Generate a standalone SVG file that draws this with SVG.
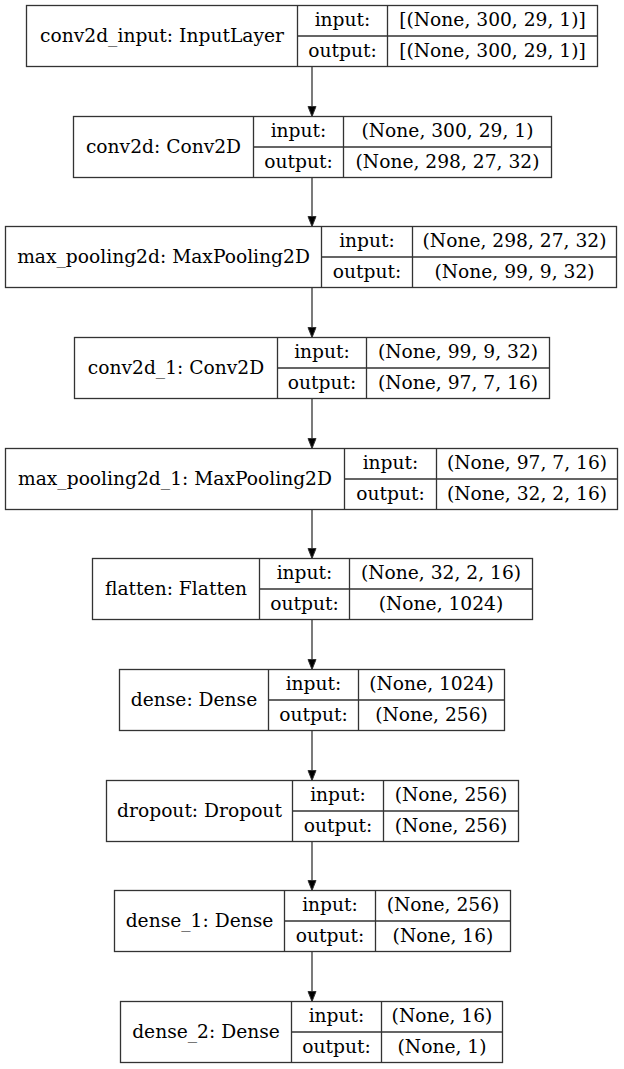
<svg xmlns="http://www.w3.org/2000/svg" width="624" height="1069" viewBox="0 0 624 1069">
<style>
.b{fill:#fff;stroke:#333;stroke-width:1.3}
.l{stroke:#333;stroke-width:1.3;fill:none}
text{font-family:"DejaVu Serif",serif;font-size:18.67px;fill:#000;text-anchor:middle}
.e{stroke:#333;stroke-width:1.3;fill:none;marker-end:url(#ah)}
</style>
<defs>
<marker id="ah" markerUnits="userSpaceOnUse" markerWidth="12" markerHeight="10" refX="10.5" refY="4.5" orient="auto">
<path d="M0.5,0.5 L10.5,4.5 L0.5,8.5 z" fill="#000" stroke="#333" stroke-width="1"/>
</marker>
</defs>
<rect width="624" height="1069" fill="#fff"/>
<g id="connectors">
<line class="e" x1="312" y1="66.5" x2="312" y2="116.5"/>
<line class="e" x1="312" y1="177.5" x2="312" y2="226.5"/>
<line class="e" x1="312" y1="287.5" x2="312" y2="337.5"/>
<line class="e" x1="312" y1="398.5" x2="312" y2="448.5"/>
<line class="e" x1="312" y1="509.5" x2="312" y2="558.5"/>
<line class="e" x1="312" y1="619.5" x2="312" y2="669.5"/>
<line class="e" x1="312" y1="730.5" x2="312" y2="780.5"/>
<line class="e" x1="312" y1="841.5" x2="312" y2="890.5"/>
<line class="e" x1="312" y1="951.5" x2="312" y2="1001.5"/>
</g>
<g id="conv2d_input">
<rect class="b" x="26.5" y="5.5" width="571" height="61"/>
<path class="l" d="M297.5,5.5V66.5M387.5,5.5V66.5M297.5,36H597.5"/>
<text x="162" y="41.5">conv2d_input: InputLayer</text>
<text x="342.5" y="26.25">input:</text>
<text x="342.5" y="56.75">output:</text>
<text x="492.5" y="26.25">[(None, 300, 29, 1)]</text>
<text x="492.5" y="56.75">[(None, 300, 29, 1)]</text>
</g>
<g id="conv2d">
<rect class="b" x="73.5" y="116.5" width="478" height="61"/>
<path class="l" d="M253.5,116.5V177.5M343.5,116.5V177.5M253.5,147H551.5"/>
<text x="163.5" y="152.5">conv2d: Conv2D</text>
<text x="298.5" y="137.25">input:</text>
<text x="298.5" y="167.75">output:</text>
<text x="447.5" y="137.25">(None, 300, 29, 1)</text>
<text x="447.5" y="167.75">(None, 298, 27, 32)</text>
</g>
<g id="max_pooling2d">
<rect class="b" x="5.5" y="226.5" width="611" height="61"/>
<path class="l" d="M321.5,226.5V287.5M412.5,226.5V287.5M321.5,257H616.5"/>
<text x="163.5" y="262.5">max_pooling2d: MaxPooling2D</text>
<text x="367" y="247.25">input:</text>
<text x="367" y="277.75">output:</text>
<text x="514.5" y="247.25">(None, 298, 27, 32)</text>
<text x="514.5" y="277.75">(None, 99, 9, 32)</text>
</g>
<g id="conv2d_1">
<rect class="b" x="74.5" y="337.5" width="475" height="61"/>
<path class="l" d="M277.5,337.5V398.5M366.5,337.5V398.5M277.5,368H549.5"/>
<text x="176" y="373.5">conv2d_1: Conv2D</text>
<text x="322" y="358.25">input:</text>
<text x="322" y="388.75">output:</text>
<text x="458" y="358.25">(None, 99, 9, 32)</text>
<text x="458" y="388.75">(None, 97, 7, 16)</text>
</g>
<g id="max_pooling2d_1">
<rect class="b" x="5.5" y="448.5" width="612" height="61"/>
<path class="l" d="M344.5,448.5V509.5M436.5,448.5V509.5M344.5,479H617.5"/>
<text x="175" y="484.5">max_pooling2d_1: MaxPooling2D</text>
<text x="390.5" y="469.25">input:</text>
<text x="390.5" y="499.75">output:</text>
<text x="527" y="469.25">(None, 97, 7, 16)</text>
<text x="527" y="499.75">(None, 32, 2, 16)</text>
</g>
<g id="flatten">
<rect class="b" x="92.5" y="558.5" width="440" height="61"/>
<path class="l" d="M259.5,558.5V619.5M349.5,558.5V619.5M259.5,589H532.5"/>
<text x="176" y="594.5">flatten: Flatten</text>
<text x="304.5" y="579.25">input:</text>
<text x="304.5" y="609.75">output:</text>
<text x="441" y="579.25">(None, 32, 2, 16)</text>
<text x="441" y="609.75">(None, 1024)</text>
</g>
<g id="dense">
<rect class="b" x="119.5" y="669.5" width="385" height="61"/>
<path class="l" d="M268.5,669.5V730.5M358.5,669.5V730.5M268.5,700H504.5"/>
<text x="194" y="705.5">dense: Dense</text>
<text x="313.5" y="690.25">input:</text>
<text x="313.5" y="720.75">output:</text>
<text x="431.5" y="690.25">(None, 1024)</text>
<text x="431.5" y="720.75">(None, 256)</text>
</g>
<g id="dropout">
<rect class="b" x="106.5" y="780.5" width="412" height="61"/>
<path class="l" d="M292.5,780.5V841.5M383.5,780.5V841.5M292.5,811H518.5"/>
<text x="199.5" y="816.5">dropout: Dropout</text>
<text x="338" y="801.25">input:</text>
<text x="338" y="831.75">output:</text>
<text x="451" y="801.25">(None, 256)</text>
<text x="451" y="831.75">(None, 256)</text>
</g>
<g id="dense_1">
<rect class="b" x="114.5" y="890.5" width="396" height="61"/>
<path class="l" d="M284.5,890.5V951.5M375.5,890.5V951.5M284.5,921H510.5"/>
<text x="199.5" y="926.5">dense_1: Dense</text>
<text x="330" y="911.25">input:</text>
<text x="330" y="941.75">output:</text>
<text x="443" y="911.25">(None, 256)</text>
<text x="443" y="941.75">(None, 16)</text>
</g>
<g id="dense_2">
<rect class="b" x="120.5" y="1001.5" width="382" height="61"/>
<path class="l" d="M291.5,1001.5V1062.5M381.5,1001.5V1062.5M291.5,1032H502.5"/>
<text x="206" y="1037.5">dense_2: Dense</text>
<text x="336.5" y="1022.25">input:</text>
<text x="336.5" y="1052.75">output:</text>
<text x="442" y="1022.25">(None, 16)</text>
<text x="442" y="1052.75">(None, 1)</text>
</g>
</svg>
